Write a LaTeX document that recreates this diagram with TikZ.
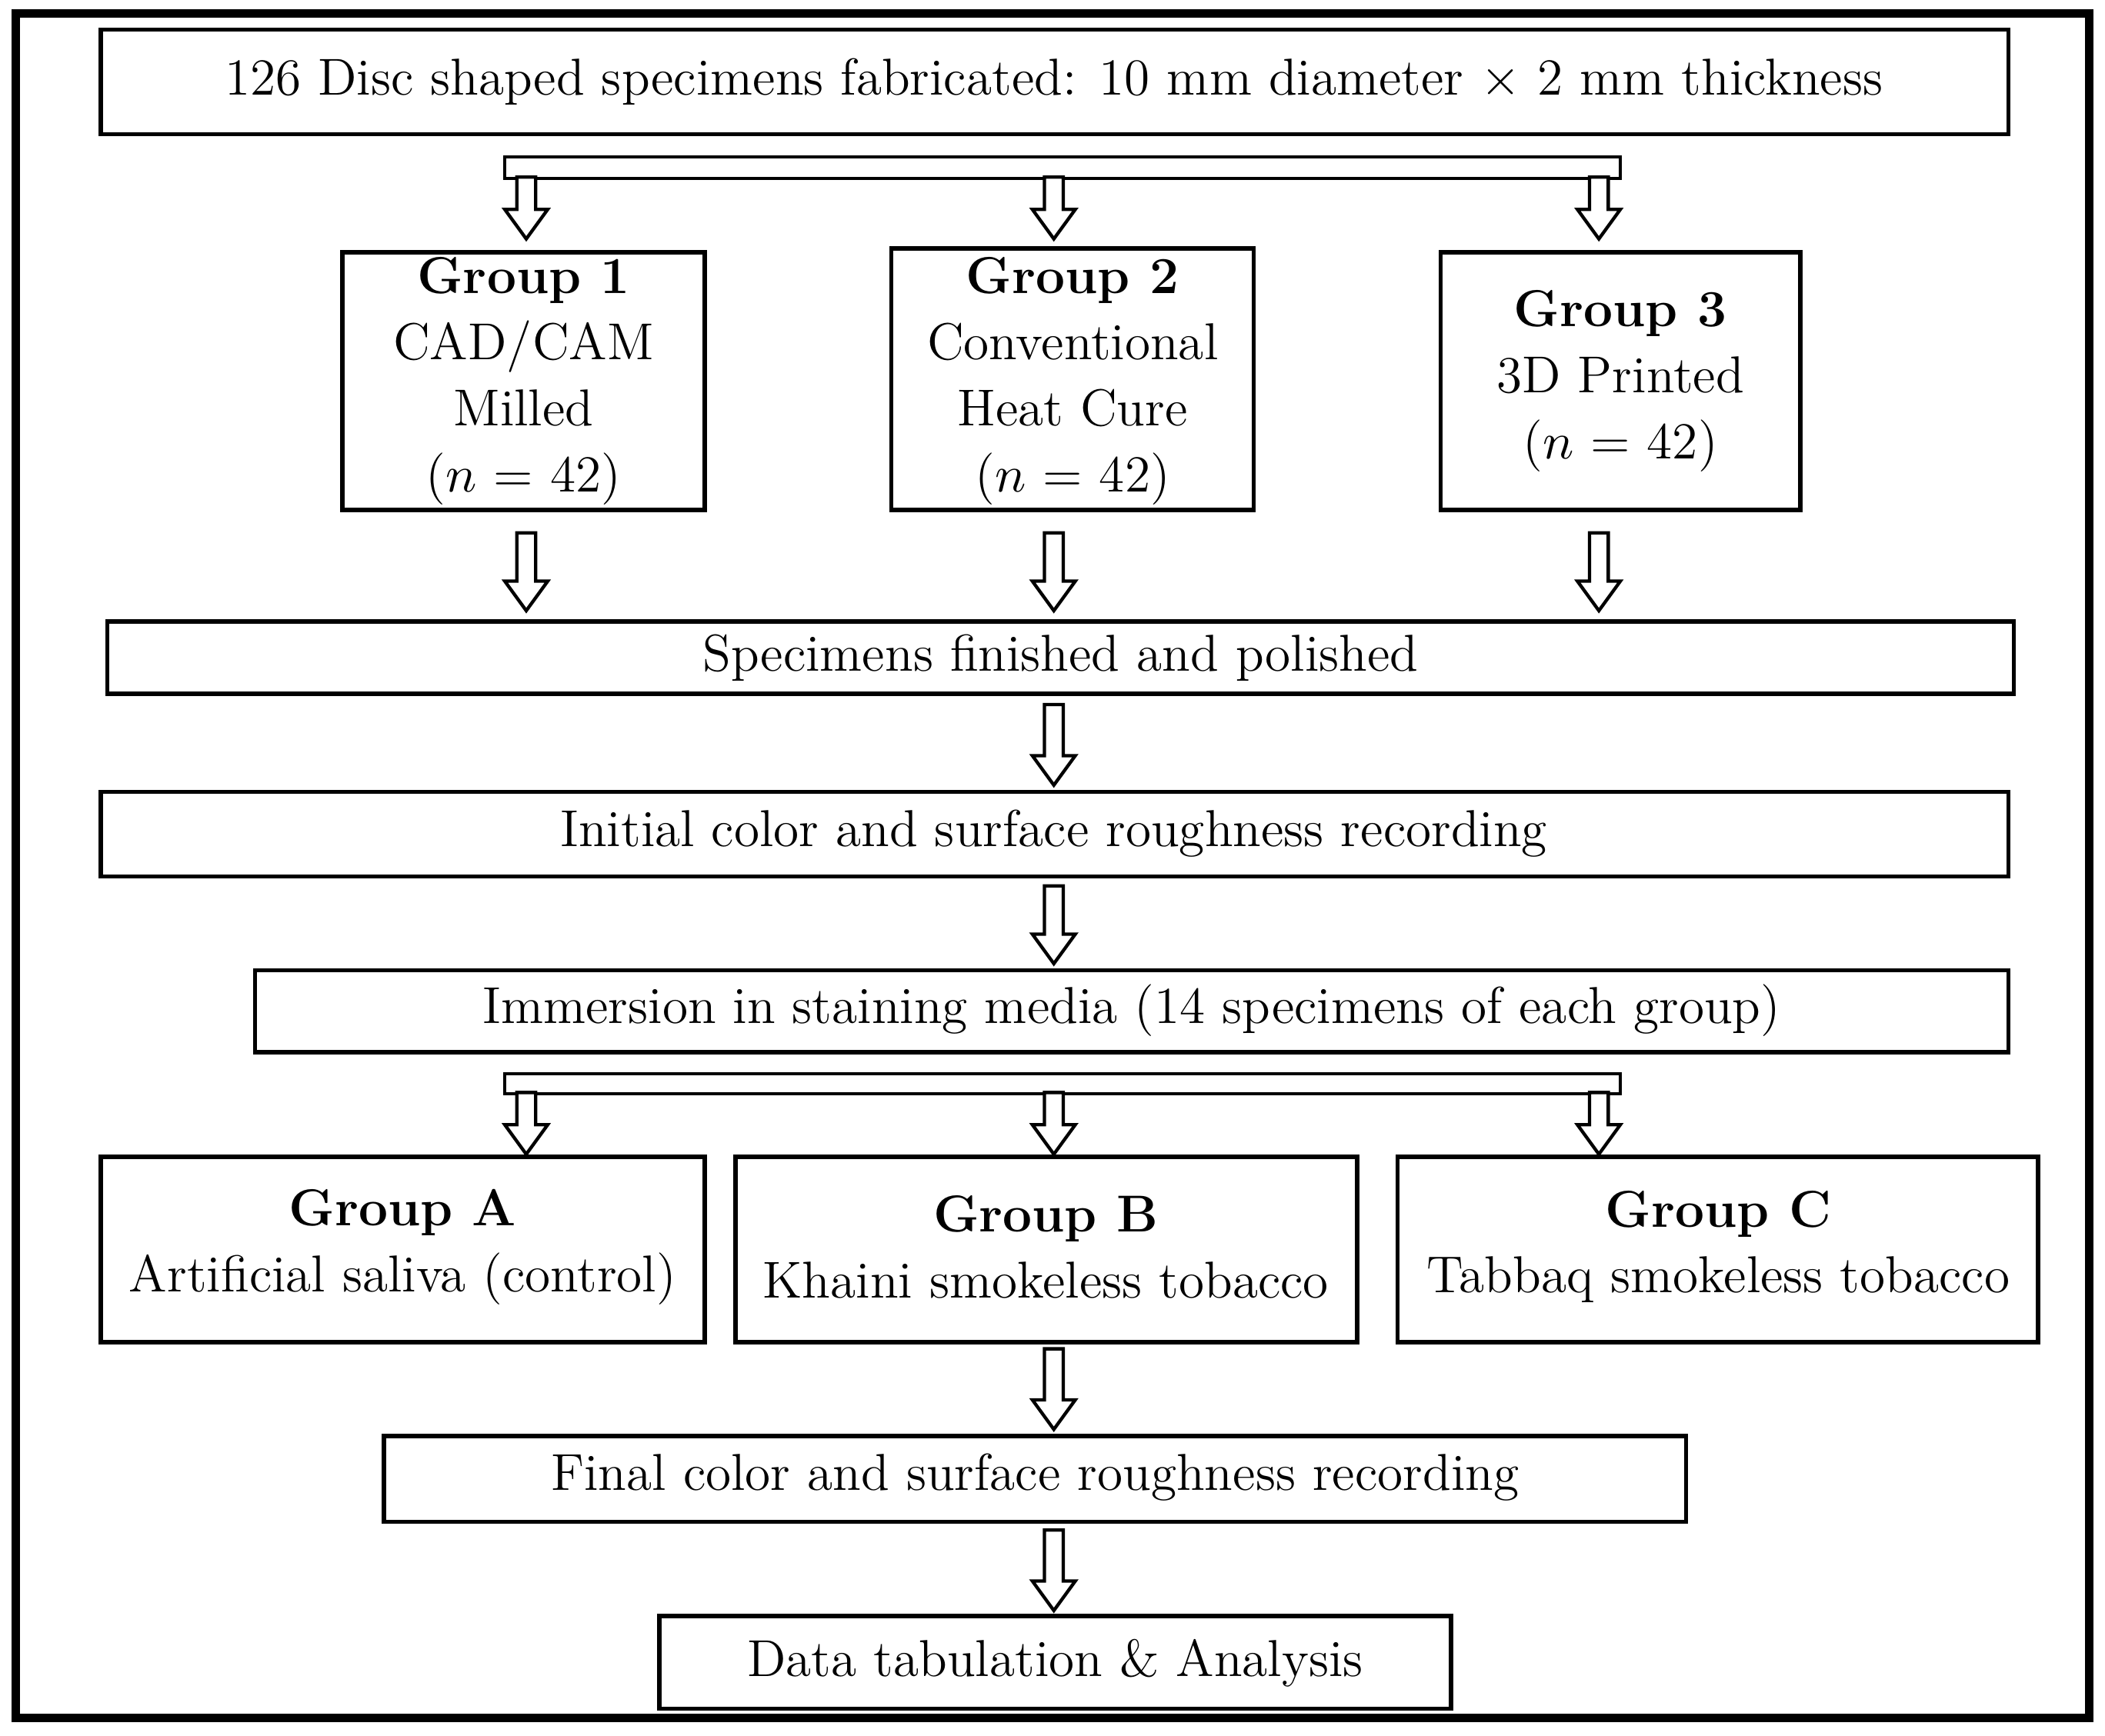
\documentclass[tikz,border=0pt]{standalone}
\begin{document}
\begin{tikzpicture}[x=0.01cm,y=-0.01cm,
  box/.style={draw,line width=0.9pt,fill=white},
  txt/.style={font=\fontsize{11}{14}\selectfont,align=center,inner sep=0pt},
  harrow/.style={draw,line width=0.7pt,fill=white}]
\useasboundingbox (0,0) rectangle (1568,1293);
\draw[line width=1.8pt] (12,10) rectangle (1556,1280);
\newcommand{\harr}[3]{\draw[harrow] (#1-7,#2) -- (#1+7,#2) -- (#1+7,#3-22) -- (#1+16,#3-22) -- (#1,#3) -- (#1-16,#3-22) -- (#1-7,#3-22) -- cycle;}
% boxes
\draw[box] (75,22) rectangle (1496,100);
\node[txt] (top) at (785,61) {126 Disc shaped specimens fabricated: 10 mm diameter $\times$ 2 mm thickness};
\draw[harrow] (376,117) rectangle (1207,133);
\harr{392}{132}{178}\harr{785}{132}{178}\harr{1191}{132}{178}
\draw[box] (255,188) rectangle (525,380);
\node[txt] (g1) at (390,284) {\textbf{Group 1}\\CAD/CAM\\Milled\\($n$ = 42)};
\draw[box] (664,185) rectangle (934,380);
\node[txt] (g2) at (799,284) {\textbf{Group 2}\\Conventional\\Heat Cure\\($n$ = 42)};
\draw[box] (1073,188) rectangle (1341,380);
\node[txt] (g3) at (1207,284) {\textbf{Group 3}\\3D Printed\\($n$ = 42)};
\harr{392}{397}{455}\harr{785}{397}{455}\harr{1191}{397}{455}
\draw[box] (80,463) rectangle (1500,517);
\node[txt] (fp) at (790,490) {Specimens finished and polished};
\harr{785}{525}{585}
\draw[box] (75,590) rectangle (1496,653);
\node[txt] (ini) at (785,621) {Initial color and surface roughness recording};
\harr{785}{660}{718}
\draw[box] (190,723) rectangle (1496,784);
\node[txt] (imm) at (843,753) {Immersion in staining media (14 specimens of each group)};
\draw[harrow] (376,800) rectangle (1207,815);
\harr{392}{814}{860}\harr{785}{814}{860}\harr{1191}{814}{860}
\draw[box] (75,862) rectangle (525,1000);
\node[txt] (ga) at (300,929) {\textbf{Group A}\\Artificial saliva (control)};
\draw[box] (548,862) rectangle (1011,1000);
\node[txt] (gb) at (779,929) {\textbf{Group B}\\Khaini smokeless tobacco};
\draw[box] (1041,862) rectangle (1518,1000);
\node[txt] (gc) at (1280,929) {\textbf{Group C}\\Tabbaq smokeless tobacco};
\harr{785}{1005}{1065}
\draw[box] (286,1070) rectangle (1256,1134);
\node[txt] (fin) at (771,1101) {Final color and surface roughness recording};
\harr{785}{1140}{1200}
\draw[box] (491,1204) rectangle (1081,1273);
\node[txt] (data) at (786,1239) {Data tabulation \& Analysis};
\end{tikzpicture}
\end{document}
